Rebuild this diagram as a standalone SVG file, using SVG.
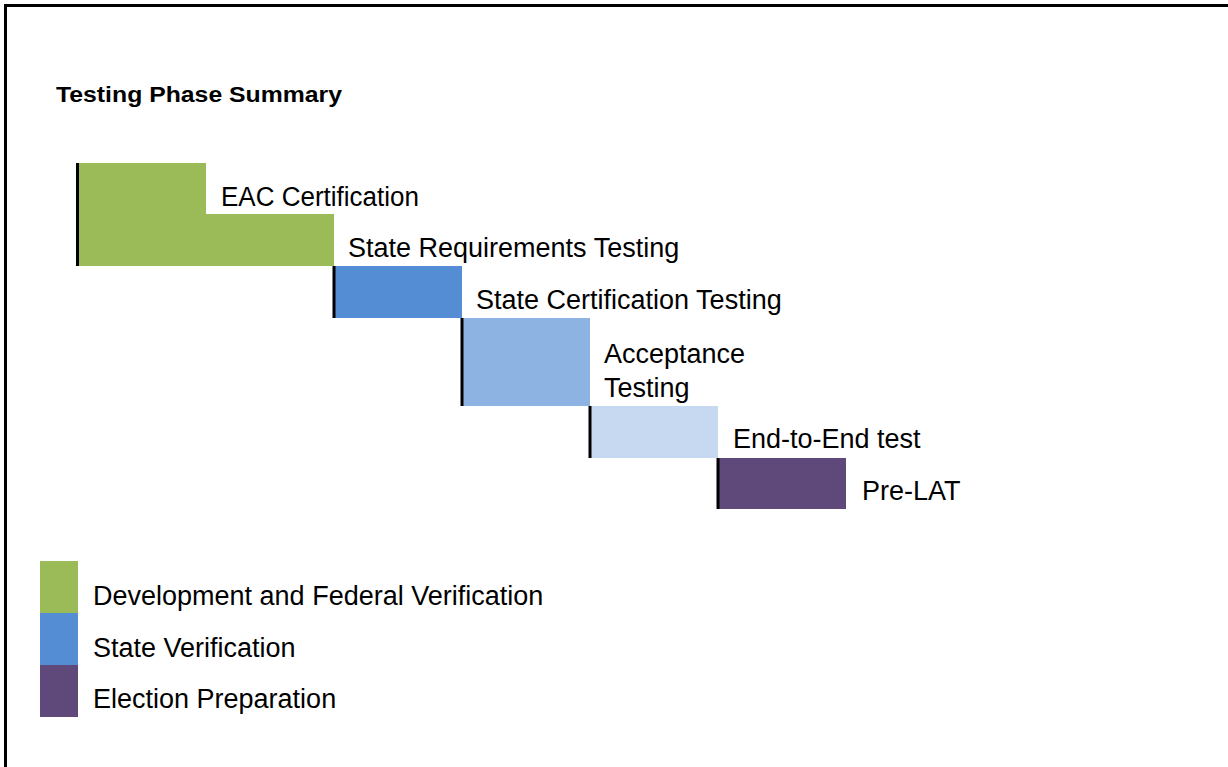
<svg xmlns="http://www.w3.org/2000/svg" width="1228" height="767" viewBox="0 0 1228 767">
<style>
.t{font-family:"Liberation Sans",Arial,sans-serif;font-size:27px;fill:#000}
.title{font-family:"Liberation Sans",Arial,sans-serif;font-size:22px;font-weight:bold;fill:#000}
.edge{fill:#000}
.g{fill:#9BBB59}.b{fill:#548DD4}.lb{fill:#8DB3E2}.xb{fill:#C6D9F1}.p{fill:#5F497A}
</style>
<rect width="1228" height="767" fill="#fff"/>
<path d="M5.5,767 V5.5 H1228" fill="none" stroke="#000" stroke-width="3"/>
<text class="title" x="56" y="102" textLength="286" lengthAdjust="spacingAndGlyphs">Testing Phase Summary</text>
<g id="eac">
<path class="g" d="M79,163 H206 V214 H334 V266 H79 Z"/>
<rect class="edge" x="76" y="163" width="3" height="103"/>
<text class="t" x="221" y="206" textLength="198" lengthAdjust="spacingAndGlyphs">EAC Certification</text>
</g>
<g id="state-req">
<rect class="b" x="335" y="266" width="127" height="52"/>
<rect class="edge" x="332.5" y="266" width="3" height="52"/>
<text class="t" x="348" y="257">State Requirements Testing</text>
</g>
<g id="state-cert">
<rect class="lb" x="463" y="318" width="127" height="88"/>
<rect class="edge" x="460.5" y="318" width="3" height="88"/>
<text class="t" x="476" y="309">State Certification Testing</text>
</g>
<g id="acceptance">
<rect class="xb" x="591" y="406" width="127" height="52"/>
<rect class="edge" x="588.5" y="406" width="3" height="52"/>
<text class="t" x="604" y="363">Acceptance</text>
<text class="t" x="604" y="397">Testing</text>
</g>
<g id="end-to-end">
<rect class="p" x="719" y="458" width="127" height="51"/>
<rect class="edge" x="716.5" y="458" width="3" height="51"/>
<text class="t" x="733" y="448">End-to-End test</text>
</g>
<g id="pre-lat">
<text class="t" x="862" y="500">Pre-LAT</text>
</g>
<g id="legend">
<rect class="g" x="40" y="561" width="38" height="52"/>
<rect class="b" x="40" y="613" width="38" height="52"/>
<rect class="p" x="40" y="665" width="38" height="52"/>
<text class="t" x="93" y="605">Development and Federal Verification</text>
<text class="t" x="93" y="657">State Verification</text>
<text class="t" x="93" y="708">Election Preparation</text>
</g>
</svg>
